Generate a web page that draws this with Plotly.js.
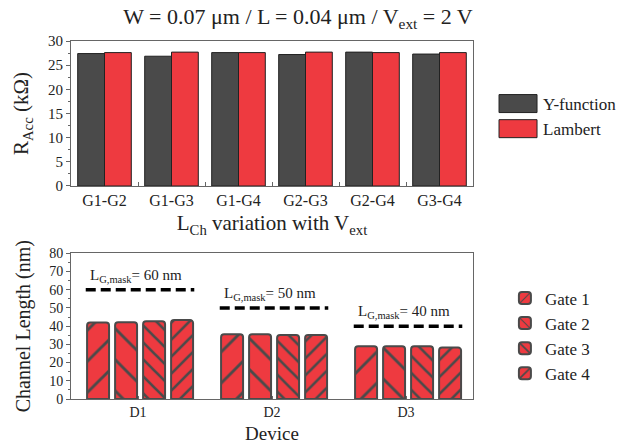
<!DOCTYPE html>
<html>
<head>
<meta charset="utf-8">
<script src="https://cdn.plot.ly/plotly-3.0.1.min.js"></script>
<style>html,body{margin:0;padding:0;background:#fff;}#chart{width:628px;height:448px;}</style>
</head>
<body>
<div id="chart"></div>
<script>
// ---- data ----
const pairs = ['G1-G2', 'G1-G3', 'G1-G4', 'G2-G3', 'G2-G4', 'G3-G4'];
const yFunction = [27.4, 26.85, 27.6, 27.2, 27.7, 27.3];
const lambert = [27.6, 27.7, 27.6, 27.7, 27.6, 27.6];

const devices = ['D1', 'D2', 'D3'];
const gate1 = [42.0, 35.5, 29.0];
const gate2 = [42.2, 35.5, 29.0];
const gate3 = [42.7, 35.2, 29.0];
const gate4 = [43.4, 35.2, 28.3];
const maskLengths = [60, 50, 40];
const gateNames = ['Gate 1', 'Gate 2', 'Gate 3', 'Gate 4'];

// ---- styles ----
const FONT = 'Liberation Serif';
const DARK = '#4a4a4a';
const RED = '#ee3a40';
const AX = '#666666';
const TXT = '#222222';

const devIdx = devices.map((d, i) => i);

const traces = [
  {type: 'bar', name: 'Y-function', x: pairs, y: yFunction, xaxis: 'x', yaxis: 'y',
   marker: {color: DARK, line: {color: '#222', width: 1}}, legend: 'legend'},
  {type: 'bar', name: 'Lambert', x: pairs, y: lambert, xaxis: 'x', yaxis: 'y',
   marker: {color: RED, line: {color: '#222', width: 1}}, legend: 'legend'}
];

const gateData = [gate1, gate2, gate3, gate4];
const patterns = [
  {shape: '/', size: 22, solidity: 0.13},
  {shape: '\\', size: 22, solidity: 0.13},
  {shape: '\\', size: 12, solidity: 0.22},
  {shape: '/', size: 12, solidity: 0.22}
];
gateData.forEach((vals, k) => {
  traces.push({
    type: 'bar', name: gateNames[k], x: devIdx, y: vals, xaxis: 'x2', yaxis: 'y2',
    width: 0.164, offset: -0.38 + k * 0.209,
    marker: {color: RED, cornerradius: 3,
      line: {color: DARK, width: 2},
      pattern: {shape: patterns[k].shape, size: patterns[k].size, solidity: patterns[k].solidity,
                fgcolor: DARK, bgcolor: RED, fillmode: 'replace'}},
    legend: 'legend2'
  });
});

// dashed mask-length lines, built from the mask values
const lx = [], ly = [];
maskLengths.forEach((m, i) => { lx.push(i - 0.39, i + 0.42, null); ly.push(m, m, null); });
traces.push({type: 'scatter', mode: 'lines', x: lx, y: ly, xaxis: 'x2', yaxis: 'y2',
  line: {color: '#000', width: 3.5, dash: '10px,5px'}, showlegend: false, hoverinfo: 'skip'});

const annotations = maskLengths.map((m, i) => ({
  xref: 'x2', yref: 'y2', x: i - 0.37, y: m + 1.5, xanchor: 'left', yanchor: 'bottom',
  text: 'L<sub>G,mask</sub>= ' + m + ' nm', showarrow: false,
  font: {family: FONT, size: 15, color: TXT}
}));

const axisCommon = {showline: true, linecolor: AX, linewidth: 1, mirror: true,
  showgrid: false, zeroline: false, tickcolor: AX};

const layout = {
  width: 628, height: 448,
  margin: {l: 71, r: 155, t: 41, b: 49},
  paper_bgcolor: '#fff', plot_bgcolor: '#fff',
  font: {family: FONT, color: TXT, size: 14},
  showlegend: true,
  barmode: 'group', bargap: 0.2, bargroupgap: 0,
  title: {text: 'W = 0.07 μm / L = 0.04 μm / V<sub>ext</sub> = 2 V',
    font: {family: FONT, size: 22, color: TXT},
    xref: 'container', yref: 'container', x: 0.4745, xanchor: 'center', y: 0.963, yanchor: 'middle'},
  xaxis: Object.assign({}, axisCommon, {domain: [0, 1], anchor: 'y', type: 'category',
    ticks: 'inside', tickson: 'boundaries', ticklen: 4,
    tickfont: {family: FONT, size: 16, color: TXT},
    title: {text: 'L<sub>Ch</sub> variation with V<sub>ext</sub>', font: {family: FONT, size: 21, color: TXT}, standoff: 7}}),
  yaxis: Object.assign({}, axisCommon, {domain: [0.595, 1], anchor: 'x', range: [0, 30], dtick: 5,
    ticks: 'outside', ticklen: 4, minor: {ticks: 'outside', ticklen: 2, dtick: 2.5, tickcolor: AX},
    tickfont: {family: FONT, size: 15, color: TXT},
    title: {text: 'R<sub>Acc</sub> (kΩ)', font: {family: FONT, size: 21, color: TXT}, standoff: 13}}),
  xaxis2: Object.assign({}, axisCommon, {domain: [0, 1], anchor: 'y2', range: [-0.5, 2.5],
    tickvals: devIdx, ticktext: devices, ticks: 'inside', ticklen: 3,
    tickfont: {family: FONT, size: 14, color: TXT},
    title: {text: 'Device', font: {family: FONT, size: 19, color: TXT}, standoff: 7}}),
  yaxis2: Object.assign({}, axisCommon, {domain: [0, 0.407], anchor: 'x2', range: [0, 80], dtick: 10,
    ticks: 'outside', ticklen: 4, minor: {ticks: 'outside', ticklen: 2, dtick: 5, tickcolor: AX},
    tickfont: {family: FONT, size: 14, color: TXT},
    title: {text: 'Channel Length (nm)', font: {family: FONT, size: 20, color: TXT}, standoff: 13}}),
  legend: {xref: 'container', yref: 'container', x: 0.801, y: 0.808, xanchor: 'left', yanchor: 'top',
    bgcolor: 'rgba(0,0,0,0)', font: {family: FONT, size: 17, color: TXT}, tracegroupgap: 0},
  legend2: {xref: 'container', yref: 'container', x: 0.804, y: 0.374, xanchor: 'left', yanchor: 'top',
    bgcolor: 'rgba(0,0,0,0)', font: {family: FONT, size: 17, color: TXT}, tracegroupgap: 0},
  annotations: annotations
};

// widen each legend swatch into the wide box of the reference, ending just before its label
function widenSwatches(gd) {
  gd.querySelectorAll('[clip-path]').forEach(el => {
    const cls = (el.getAttribute('class') || '');
    if (cls.indexOf('scrollbox') >= 0 || cls.indexOf('legend') >= 0) el.removeAttribute('clip-path');
  });
  gd.querySelectorAll('g.traces').forEach(tr => {
    const text = tr.querySelector('text.legendtext');
    if (!text) return;
    const tl = text.getBoundingClientRect().left;
    tr.querySelectorAll('.legendpoints path').forEach(p => {
      p.removeAttribute('transform');
      const m = p.getScreenCTM();
      if (!m) return;
      const sx = m.a || 1;
      const x1 = ((tl - 6 - m.e) / sx).toFixed(1);
      const x0 = ((tl - 44 - m.e) / sx).toFixed(1);
      p.setAttribute('d', 'M' + x1 + ',9H' + x0 + 'V-9H' + x1 + 'Z');
    });
  });
}

Plotly.newPlot('chart', traces, layout, {displayModeBar: false, staticPlot: true}).then(gd => {
  widenSwatches(gd);
  gd.on('plotly_afterplot', () => widenSwatches(gd));
  requestAnimationFrame(() => widenSwatches(gd));
  setTimeout(() => widenSwatches(gd), 60);
  setTimeout(() => widenSwatches(gd), 250);
});
</script>
</body>
</html>
